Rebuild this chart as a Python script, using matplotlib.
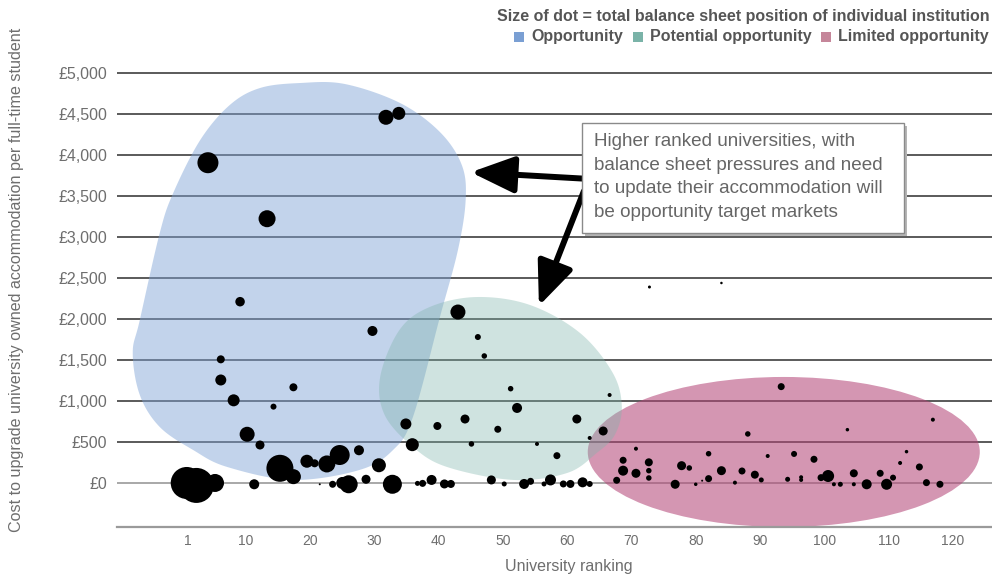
import matplotlib
matplotlib.use('Agg')
import matplotlib.pyplot as plt
from matplotlib.patches import Polygon, Ellipse, Rectangle, FancyArrowPatch
import numpy as np

plt.rcParams['font.family'] = ['Liberation Sans', 'DejaVu Sans']

# university ranking, cost per student (GBP), dot size (relative balance sheet)
rank = [4.1, 31.8, 33.8, 13.3, 9.1, 29.7, 6.1, 6.1, 17.4, 8.1, 14.3, 10.2, 12.2,
        34.9, 35.9, 39.8, 27.6, 24.6, 22.6, 19.5, 20.7, 15.3, 17.4, 30.7,
        0.8, 2.3, 5.2, 11.3, 21.5, 23.5, 26.0, 25.0, 28.7, 32.8, 37.5, 38.9, 36.7,
        40.9, 41.9,
        43.0, 46.1, 47.1, 51.2, 66.6, 52.2, 44.1, 49.2, 61.5, 65.6, 63.5, 45.1,
        55.3, 58.4,
        48.2, 50.2, 53.3, 54.3, 56.4, 57.4, 59.4, 60.5, 62.4, 63.5,
        93.3, 88.1, 70.7, 68.7, 68.7, 67.7, 70.7, 72.7, 72.7, 72.7, 76.8, 77.8,
        79.0, 80.0, 81.0, 82.0, 82.0, 84.0, 86.1, 87.2, 89.2, 90.2, 91.2, 94.3,
        103.6, 116.9, 112.8, 95.3, 98.4, 111.8, 114.8, 96.4, 96.4, 99.5, 100.6,
        101.5, 102.5, 104.6, 104.6, 106.6, 108.7, 109.7, 110.7, 115.9, 118.0,
        72.8, 84.0]
cost = [3906, 4460, 4508, 3223, 2211, 1854, 1508, 1256, 1167, 1008, 931, 594, 463,
        720, 467, 695, 399, 341, 232, 265, 240, 179, 77, 216,
        0, -30, 0, -16, -16, -16, -16, 0, 45, -16, -5, 37, -5,
        -12, -12,
        2085, 1780, 1549, 1150, 1073, 915, 780, 655, 780, 634, 549, 476,
        476, 333,
        37, -12, -12, 20, -12, 37, -12, -12, 8, -12,
        1175, 598, 418, 277, 150, 33, 118, 252, 150, 61, -16, 211,
        183, -16, 28, 357, 53, 150, 4, 146, 101, 37, 329, 45,
        650, 772, 382, 354, 289, 244, 195, 70, 37, 65, 85,
        -16, -16, 118, -16, -16, 118, -16, 65, 4, -16,
        2390, 2439]
balance = [21, 15, 13, 17, 9.5, 10, 8, 11, 8, 12, 6, 15, 9,
           11, 13, 8, 10, 20, 17, 13, 8, 27, 15, 14,
           32, 35, 18, 10, 2, 7, 18, 12, 9, 19, 7, 10, 5,
           9, 8,
           15, 6, 5.5, 5.5, 4, 10, 9, 7, 9, 9, 4, 5.5,
           4, 7,
           9, 5, 10, 7, 5, 11, 7, 8, 10, 6,
           7, 5.5, 4, 7, 10, 7, 9, 8, 5.5, 5.5, 9, 9,
           5.5, 3.5, 2, 5.5, 7, 9, 4, 7, 8, 5, 4, 5,
           3.5, 4, 3.5, 6, 7, 4, 7, 4, 4, 7, 12,
           4, 5, 8, 4, 10, 7, 11, 6, 7, 7,
           3, 2.5]

yticks = [0, 500, 1000, 1500, 2000, 2500, 3000, 3500, 4000, 4500, 5000]
ytick_labels = ['£0', '£500', '£1,000', '£1,500', '£2,000', '£2,500', '£3,000',
                '£3,500', '£4,000', '£4,500', '£5,000']
xticks = [1, 10, 20, 30, 40, 50, 60, 70, 80, 90, 100, 110, 120]

# highlight regions (outline points in rank / cost units)
blue_x = [18.4, 25.4, 34.0, 40.2, 43.6, 44.2, 43.0, 40.2, 36.0, 32.9, 27.7, 17.3,
          7.1, 1.8, -3.4, -6.5, -7.6, -6.5, -3.4, -1.3, 2.9, 7.5, 12.2]
blue_y = [4878, 4866, 4634, 4280, 3878, 3451, 2841, 2024, 805, 402, 159, 37,
          195, 402, 683, 1073, 1585, 1988, 3049, 3537, 4183, 4610, 4817]
green_x = [45.9, 54.2, 62.0, 67.1, 68.5, 67.4, 64.6, 60.0, 51.6, 41.3, 36.0, 31.6,
           30.9, 33.9, 38.6]
green_y = [2268, 2171, 1829, 1341, 927, 585, 366, 122, 37, 195, 439, 829,
           1293, 1866, 2146]

note = ('Higher ranked universities, with\nbalance sheet pressures and need\n'
        'to update their accommodation will\nbe opportunity target markets')

legend_labels = ['Opportunity', 'Potential opportunity', 'Limited opportunity']
legend_colors = ['#7a9fd3', '#7ab3a8', '#c5869a']


def smooth_closed(xs, ys, n=20):
    # closed Catmull-Rom curve through the outline points
    pts = np.column_stack([xs, ys])
    N = len(pts)
    t = np.linspace(0, 1, n, endpoint=False)[:, None]
    out = []
    for i in range(N):
        p0, p1, p2, p3 = pts[i - 1], pts[i], pts[(i + 1) % N], pts[(i + 2) % N]
        seg = 0.5 * (2 * p1 + (-p0 + p2) * t + (2 * p0 - 5 * p1 + 4 * p2 - p3) * t ** 2
                     + (-p0 + 3 * p1 - 3 * p2 + p3) * t ** 3)
        out.append(seg)
    return np.vstack(out)


fig = plt.figure(figsize=(9.92, 5.75), dpi=100)
ax = fig.add_axes([117 / 992, 48 / 575, 875 / 992, 458 / 575])
ax.set_xlim(-10.05, 126.1)
ax.set_ylim(-537, 5049)

for v in yticks:
    if v == 0:
        ax.axhline(v, color='#9a9a9a', lw=1.2, zorder=1)
    else:
        ax.axhline(v, color='#2e2e2e', lw=1.1, zorder=1)

# shaded regions
ax.add_patch(Ellipse((93.7, 378), 61.0, 1830, facecolor='#b44678', alpha=0.57,
                     edgecolor='none', zorder=2))
ax.add_patch(Polygon(smooth_closed(blue_x, blue_y), closed=True, facecolor='#7ea3d6',
                     alpha=0.47, edgecolor='none', zorder=2))
ax.add_patch(Polygon(smooth_closed(green_x, green_y), closed=True, facecolor='#7fb5ab',
                     alpha=0.37, edgecolor='none', zorder=2))

sizes = [(b * 0.72) ** 2 for b in balance]
ax.scatter(rank, cost, s=sizes, c='black', edgecolors='none', zorder=3)

# arrows
arrow_style = '-|>,head_length=0.95,head_width=0.4'
ax.add_patch(FancyArrowPatch((63.0, 3710), (45.0, 3790), arrowstyle=arrow_style,
                             mutation_scale=28, lw=4.3, color='black',
                             shrinkA=0, shrinkB=0, zorder=4))
ax.add_patch(FancyArrowPatch((62.6, 3560), (55.6, 2160), arrowstyle=arrow_style,
                             mutation_scale=28, lw=4.3, color='black',
                             shrinkA=0, shrinkB=0, zorder=4))

# callout box with shadow
ax.add_patch(Rectangle((62.8, 3012), 50.1, 1341, facecolor='#b5b5b5',
                       edgecolor='none', zorder=5))
ax.add_patch(Rectangle((62.3, 3049), 50.1, 1341, facecolor='white',
                       edgecolor='#8a8a8a', lw=1.0, zorder=5))
ax.text(64.1, 4265, note, ha='left', va='top', fontsize=13.6, color='#666666',
        linespacing=1.5, zorder=6)

for s in ['top', 'right', 'left']:
    ax.spines[s].set_visible(False)
ax.spines['bottom'].set_color('#9a9a9a')
ax.spines['bottom'].set_linewidth(1.6)

ax.set_yticks(yticks, ytick_labels)
ax.set_xticks(xticks, [str(v) for v in xticks])
ax.tick_params(axis='y', length=0, pad=7, labelsize=11.5, labelcolor='#6e6e6e')
ax.tick_params(axis='x', length=0, pad=5, labelsize=10, labelcolor='#6e6e6e')

fig.text(569 / 992, 1 - 567 / 575, 'University ranking', ha='center', va='center',
         fontsize=11.5, color='#6e6e6e')
fig.text(17 / 992, 1 - 280 / 575,
         'Cost to upgrade university owned accommodation per full-time student',
         rotation=90, ha='center', va='center', fontsize=11.6, color='#6e6e6e')

# legend text at top right, laid out from the right edge
fig.text(0.998, 1 - 16 / 575, 'Size of dot = total balance sheet position of individual institution',
         ha='right', va='center', fontsize=11.5, fontweight='bold', color='#555555')
renderer = fig.canvas.get_renderer()
right_px = 989
for label, col in zip(legend_labels[::-1], legend_colors[::-1]):
    t = fig.text(right_px / 992, 1 - 37 / 575, label, ha='right', va='center',
                 fontsize=11.5, fontweight='bold', color='#555555')
    w = t.get_window_extent(renderer).width
    sq_left = right_px - w - 7 - 10
    fig.patches.append(Rectangle((sq_left / 992, 1 - 42 / 575), 10 / 992, 10 / 575,
                                 facecolor=col, edgecolor='none',
                                 transform=fig.transFigure, figure=fig))
    right_px = sq_left - 10

fig.savefig('out.png', dpi=100)
